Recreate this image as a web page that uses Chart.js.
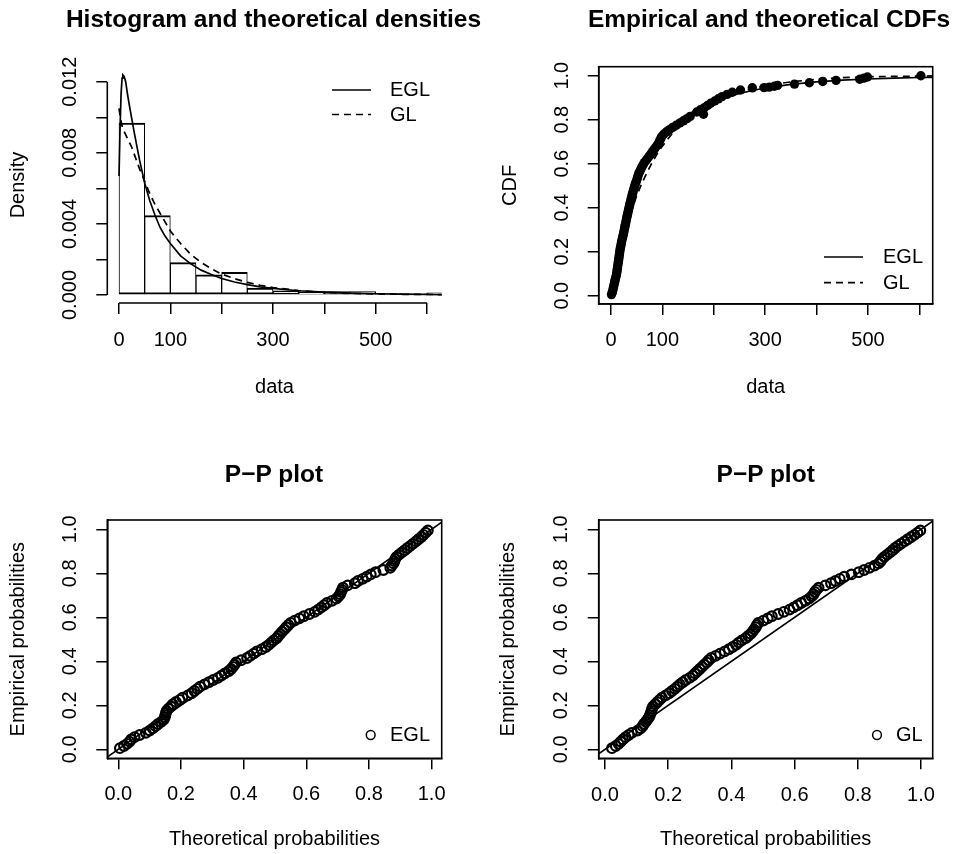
<!DOCTYPE html>
<html>
<head>
<meta charset="utf-8">
<script src="https://cdn.jsdelivr.net/npm/chart.js@4.4.1/dist/chart.umd.min.js"></script>
<style>
  html, body { margin: 0; padding: 0; background: #fff; }
  #page { position: relative; width: 962px; height: 854px; overflow: hidden; }
  .panel { position: absolute; width: 481px; height: 427px; }
  .main { position: absolute; width: 600px; text-align: center; color: #000; white-space: nowrap;
          font: bold 24.5px "Liberation Sans", Arial, Helvetica, sans-serif; line-height: 30px; }
</style>
</head>
<body>
<div id="page">
  <canvas id="c1" class="panel" width="481" height="427" style="left:0;top:0"></canvas>
  <canvas id="c2" class="panel" width="481" height="427" style="left:481px;top:0"></canvas>
  <canvas id="c3" class="panel" width="481" height="427" style="left:0;top:427px"></canvas>
  <canvas id="c4" class="panel" width="481" height="427" style="left:481px;top:427px"></canvas>
  <div class="main" style="left:-26.5px;top:3.6px">Histogram and theoretical densities</div>
  <div class="main" style="left:469px;top:3.6px">Empirical and theoretical CDFs</div>
  <div class="main" style="left:-26px;top:458.6px">P−P plot</div>
  <div class="main" style="left:465.7px;top:458.6px">P−P plot</div>
</div>
<script>
// ---- histogram (bin mid points, densities) ----
const histMid = [25, 75, 125, 175, 225, 275, 325, 375, 425, 475, 525, 575, 625];
const histDens = [0.00967, 0.00447, 0.00182, 0.00113, 0.00128, 0.00039, 0.00023, 0.00015, 0.00019, 0.00019, 0.0001, 0.00004, 0.00012];

// ---- fitted densities ----
const eglDensX = [0, 2, 4, 6, 7.5, 10, 13, 16, 20, 25, 30, 40, 50, 60, 70, 80, 90, 100, 120, 140, 160, 180, 200, 225, 250, 275, 300, 350, 400, 450, 500, 550, 600, 650];
const eglDensY = [0.0067, 0.0093, 0.0113, 0.0122, 0.01238, 0.0123, 0.0120, 0.0114, 0.0107, 0.0099, 0.0091, 0.0076, 0.0063, 0.0053, 0.0045, 0.0038, 0.0033, 0.0029, 0.0022, 0.00175, 0.0014, 0.00115, 0.00093, 0.00073, 0.00058, 0.00046, 0.00037, 0.00024, 0.00016, 0.00011, 0.00007, 0.00005, 0.00003, 0.00002];
const glDensX = [0, 3, 6, 10, 15, 20, 25, 30, 40, 50, 60, 70, 80, 90, 100, 120, 140, 160, 180, 200, 225, 250, 275, 300, 350, 400, 450, 500, 550, 600, 650];
const glDensY = [0.0105, 0.0099, 0.0095, 0.0092, 0.0089, 0.0086, 0.0083, 0.0079, 0.0071, 0.0064, 0.0057, 0.0051, 0.0046, 0.0041, 0.0036, 0.0029, 0.00228, 0.00183, 0.00148, 0.00118, 0.00092, 0.00071, 0.00055, 0.00042, 0.00025, 0.00015, 0.00009, 0.00006, 0.00004, 0.00003, 0.00002];

// ---- empirical CDF points ----
const cdfX = [1, 2.5, 3.5, 4.5, 5.5, 6.5, 7.5, 8.3, 9.5, 10.6,
  11.3, 11.9, 12.5, 13.1, 13.8, 14.4, 15, 15.6, 16.2, 16.8,
  17.4, 18.2, 19, 19.8, 20.6, 21.6, 22.6, 23.6, 24.6, 25.5,
  26.3, 27.2, 28.1, 29, 29.9, 30.8, 31.7, 32.6, 33.6, 34.6,
  35.6, 36.6, 37.6, 38.7, 39.8, 40.9, 42, 43.2, 44.4, 45.7,
  47, 48.5, 50, 51.3, 52.6, 54, 56, 58, 60, 62.4,
  65, 68.4, 71.5, 74.5, 78, 81, 84, 87, 90, 93,
  95, 97, 99, 103, 108, 114, 120, 127, 134, 141,
  148, 154, 180, 167, 174, 182, 188, 194, 202, 209,
  216, 226, 236, 252, 275, 298, 308, 318, 324, 357,
  386, 412, 438, 484, 492, 499, 603];
const cdfP = [0.005, 0.015, 0.025, 0.035, 0.045, 0.055, 0.065, 0.075, 0.085, 0.095,
  0.105, 0.115, 0.125, 0.135, 0.145, 0.155, 0.165, 0.175, 0.185, 0.195,
  0.205, 0.215, 0.225, 0.235, 0.245, 0.255, 0.265, 0.275, 0.285, 0.295,
  0.305, 0.315, 0.325, 0.335, 0.345, 0.355, 0.365, 0.375, 0.385, 0.395,
  0.405, 0.415, 0.425, 0.435, 0.445, 0.455, 0.465, 0.475, 0.485, 0.495,
  0.505, 0.515, 0.525, 0.535, 0.545, 0.555, 0.565, 0.575, 0.585, 0.595,
  0.605, 0.615, 0.625, 0.635, 0.645, 0.655, 0.665, 0.675, 0.685, 0.695,
  0.705, 0.715, 0.725, 0.735, 0.745, 0.755, 0.765, 0.775, 0.785, 0.795,
  0.805, 0.815, 0.825, 0.835, 0.845, 0.855, 0.865, 0.875, 0.885, 0.895,
  0.905, 0.915, 0.925, 0.935, 0.945, 0.946, 0.948, 0.952, 0.956, 0.962,
  0.968, 0.974, 0.979, 0.984, 0.989, 0.994, 1.0];

// ---- fitted CDFs ----
const cdfCurveX = [0, 3, 6, 10, 15, 20, 25, 30, 40, 50, 60, 70, 80, 90, 100, 120, 140, 160, 180, 200, 225, 250, 275, 300, 350, 400, 450, 500, 550, 600, 630];
const eglCdfY = [0, 0.025, 0.06, 0.105, 0.165, 0.225, 0.285, 0.34, 0.435, 0.51, 0.57, 0.62, 0.66, 0.695, 0.725, 0.772, 0.808, 0.837, 0.861, 0.881, 0.902, 0.919, 0.933, 0.944, 0.961, 0.972, 0.98, 0.985, 0.989, 0.992, 0.993];
const glCdfY = [0, 0.032, 0.064, 0.104, 0.156, 0.206, 0.255, 0.30, 0.385, 0.455, 0.51, 0.56, 0.605, 0.645, 0.68, 0.74, 0.787, 0.825, 0.856, 0.881, 0.906, 0.926, 0.942, 0.955, 0.972, 0.984, 0.991, 0.995, 0.997, 0.998, 0.999];

// ---- P-P plots ----
const ppEmp = [0.005, 0.015, 0.025, 0.035, 0.045, 0.055, 0.065, 0.075, 0.085, 0.095,
  0.105, 0.115, 0.125, 0.135, 0.145, 0.155, 0.165, 0.175, 0.185, 0.195,
  0.205, 0.215, 0.225, 0.235, 0.245, 0.255, 0.265, 0.275, 0.285, 0.295,
  0.305, 0.315, 0.325, 0.335, 0.345, 0.355, 0.365, 0.375, 0.385, 0.395,
  0.405, 0.415, 0.425, 0.435, 0.445, 0.455, 0.465, 0.475, 0.485, 0.495,
  0.505, 0.515, 0.525, 0.535, 0.545, 0.555, 0.565, 0.575, 0.585, 0.595,
  0.605, 0.615, 0.625, 0.635, 0.645, 0.655, 0.665, 0.675, 0.685, 0.695,
  0.705, 0.715, 0.725, 0.735, 0.745, 0.755, 0.765, 0.775, 0.785, 0.795,
  0.805, 0.815, 0.825, 0.835, 0.845, 0.855, 0.865, 0.875, 0.885, 0.895,
  0.905, 0.915, 0.925, 0.935, 0.945, 0.955, 0.965, 0.975, 0.985, 0.995];
const ppEglT = [0.005, 0.018, 0.028, 0.036, 0.041, 0.052, 0.068, 0.088, 0.100, 0.110,
  0.119, 0.127, 0.137, 0.145, 0.148, 0.150, 0.152, 0.154, 0.160, 0.168,
  0.174, 0.184, 0.196, 0.205, 0.222, 0.234, 0.243, 0.252, 0.261, 0.275,
  0.289, 0.303, 0.318, 0.329, 0.340, 0.352, 0.360, 0.366, 0.371, 0.376,
  0.392, 0.411, 0.421, 0.432, 0.442, 0.458, 0.471, 0.480, 0.488, 0.496,
  0.505, 0.511, 0.517, 0.523, 0.530, 0.536, 0.543, 0.550, 0.563, 0.578,
  0.592, 0.610, 0.627, 0.638, 0.648, 0.657, 0.666, 0.682, 0.696, 0.703,
  0.708, 0.711, 0.714, 0.717, 0.732, 0.755, 0.765, 0.780, 0.793, 0.806,
  0.821, 0.846, 0.868, 0.873, 0.878, 0.881, 0.884, 0.888, 0.896, 0.905,
  0.914, 0.923, 0.932, 0.941, 0.950, 0.958, 0.967, 0.974, 0.981, 0.988];
const ppGlT = [0.022, 0.034, 0.043, 0.050, 0.057, 0.065, 0.075, 0.085, 0.103, 0.113,
  0.119, 0.123, 0.129, 0.134, 0.139, 0.142, 0.145, 0.147, 0.149, 0.152,
  0.159, 0.166, 0.173, 0.180, 0.192, 0.203, 0.212, 0.221, 0.229, 0.237,
  0.246, 0.256, 0.268, 0.278, 0.285, 0.292, 0.300, 0.307, 0.314, 0.322,
  0.328, 0.336, 0.350, 0.364, 0.379, 0.392, 0.404, 0.415, 0.423, 0.433,
  0.445, 0.453, 0.461, 0.467, 0.472, 0.477, 0.481, 0.485, 0.501, 0.515,
  0.528, 0.548, 0.566, 0.584, 0.597, 0.609, 0.621, 0.634, 0.646, 0.654,
  0.660, 0.664, 0.669, 0.676, 0.697, 0.715, 0.729, 0.743, 0.757, 0.780,
  0.803, 0.820, 0.837, 0.853, 0.866, 0.872, 0.877, 0.884, 0.893, 0.902,
  0.910, 0.918, 0.927, 0.937, 0.948, 0.958, 0.969, 0.979, 0.989, 0.998];
const diagLine = [-0.1, 1.1];

// ---- ticks ----
const dataTicks = [0, 100, 200, 300, 400, 500, 600];
const dataTickLabels = ['0', '100', '', '300', '', '500', ''];
const densTicks = [0, 0.002, 0.004, 0.006, 0.008, 0.01, 0.012];
const densTickLabels = ['0.000', '', '0.004', '', '0.008', '', '0.012'];
const probTicks = [0, 0.2, 0.4, 0.6, 0.8, 1.0];
const probTickLabels = ['0.0', '0.2', '0.4', '0.6', '0.8', '1.0'];

const FONT = '"Liberation Sans", Arial, Helvetica, sans-serif';
Chart.defaults.font.family = FONT;
Chart.defaults.font.size = 20;
Chart.defaults.color = '#000';

const pts = (xs, ys) => xs.map((x, i) => ({ x: x, y: ys[i] }));

// R-like axis: ticks outside, label sizes fixed so the plot region lands where R puts it
function rScale(o) {
  return {
    type: 'linear', bounds: 'data', min: o.min, max: o.max, offset: false,
    afterBuildTicks: s => { s.ticks = o.ticks.map(v => ({ value: v })); },
    afterFit: s => { if (o.horiz) s.height = o.size; else s.width = o.size; },
    grid: { drawOnChartArea: false, drawTicks: true, tickLength: 11, tickColor: '#000', tickWidth: 1.5, lineWidth: 1.5, offset: false },
    border: { display: o.border, color: '#000', width: 1.6 },
    ticks: {
      autoSkip: false, padding: o.pad, color: '#000',
      minRotation: o.horiz ? 0 : 90, maxRotation: o.horiz ? 0 : 90,
      crossAlign: o.horiz ? 'near' : 'center',
      font: { size: 20 },
      callback: (v, i) => o.labels[i]
    },
    title: { display: true, text: o.title, padding: 0, color: '#000', font: { size: 20 } }
  };
}

// box / partial axis lines + legend, R style
const rFrame = {
  id: 'rFrame',
  afterDatasetsDraw(chart, args, o) {
    const ctx = chart.ctx, a = chart.chartArea, xs = chart.scales.x, ys = chart.scales.y;
    ctx.save();
    ctx.strokeStyle = '#000';
    ctx.fillStyle = '#000';
    ctx.lineWidth = 1.6;
    ctx.setLineDash([]);
    if (o.box) {
      ctx.strokeRect(a.left, a.top, a.right - a.left, a.bottom - a.top);
    } else {
      const xt = xs.ticks, yt = ys.ticks;
      ctx.beginPath();
      ctx.moveTo(xs.getPixelForValue(xt[0].value), a.bottom);
      ctx.lineTo(xs.getPixelForValue(xt[xt.length - 1].value), a.bottom);
      ctx.moveTo(a.left, ys.getPixelForValue(yt[0].value));
      ctx.lineTo(a.left, ys.getPixelForValue(yt[yt.length - 1].value));
      ctx.stroke();
    }
    const lg = o.legend;
    ctx.font = '20px ' + FONT;
    ctx.textBaseline = 'middle';
    ctx.textAlign = 'left';
    lg.items.forEach((it, i) => {
      const y = lg.y[i];
      ctx.lineWidth = 1.6;
      if (it.circle) {
        ctx.lineWidth = 1.5;
        ctx.beginPath();
        ctx.arc(lg.x0, y, 4.4, 0, Math.PI * 2);
        ctx.stroke();
      } else {
        ctx.setLineDash(it.dash || []);
        ctx.beginPath();
        ctx.moveTo(lg.x0, y);
        ctx.lineTo(lg.x1, y);
        ctx.stroke();
        ctx.setLineDash([]);
      }
      ctx.fillText(it.label, lg.tx, y + 0.5);
    });
    ctx.restore();
  }
};

function makeChart(id, datasets, xs, ys, pad, frame) {
  return new Chart(document.getElementById(id), {
    type: 'scatter',
    data: { datasets: datasets },
    options: {
      responsive: false, animation: false, devicePixelRatio: 1, events: [],
      layout: { padding: pad },
      plugins: { legend: { display: false }, tooltip: { enabled: false }, rFrame: frame },
      scales: { x: rScale(xs), y: rScale(ys) }
    },
    plugins: [rFrame]
  });
}

const lineSet = (data, dash) => ({
  data: data, showLine: true, pointRadius: 0, borderColor: '#000', borderWidth: 1.7,
  borderDash: dash || [], tension: 0, clip: 0, fill: false
});
const DASH = [7, 5];
const ppPoints = data => ({
  data: data, pointRadius: 4.8, pointBackgroundColor: 'rgba(0,0,0,0)',
  pointBorderColor: '#000', pointBorderWidth: 2.2
});

// 1. histogram + densities
makeChart('c1', [
  lineSet(pts(eglDensX, eglDensY)),
  lineSet(pts(glDensX, glDensY), DASH),
  { type: 'bar', data: pts(histMid, histDens), backgroundColor: '#fff', borderColor: '#000',
    borderWidth: { top: 2, right: 1, bottom: 2, left: 1 }, borderSkipped: false,
    barPercentage: 1, categoryPercentage: 1, clip: 0 }
],
  { horiz: true, min: -22.8, max: 628.7, ticks: dataTicks, labels: dataTickLabels, size: 96, pad: 14, border: false, title: 'data' },
  { horiz: false, min: -0.00045, max: 0.01283, ticks: densTicks, labels: densTickLabels, size: 101.3, pad: 1, border: false, title: 'Density' },
  { left: 6, right: 39.3, top: 67, bottom: 28 },
  { box: false, legend: { x0: 332, x1: 371, tx: 390, y: [90, 114.5],
    items: [{ label: 'EGL' }, { label: 'GL', dash: DASH }] } }
);

// 2. empirical and fitted CDFs
makeChart('c2', [
  { data: pts(cdfX, cdfP), pointRadius: 4.7, pointBackgroundColor: '#000', pointBorderWidth: 0, borderColor: '#000' },
  lineSet(pts(cdfCurveX, eglCdfY)),
  lineSet(pts(cdfCurveX, glCdfY), DASH)
],
  { horiz: true, min: -23.9, max: 626, ticks: dataTicks, labels: dataTickLabels, size: 95, pad: 13, border: true, title: 'data' },
  { horiz: false, min: -0.0377, max: 1.041, ticks: probTicks, labels: probTickLabels, size: 100.7, pad: 11, border: true, title: 'CDF' },
  { left: 17, right: 29.3, top: 66.7, bottom: 28 },
  { box: true, legend: { x0: 343, x1: 382, tx: 402, y: [257, 282.6],
    items: [{ label: 'EGL' }, { label: 'GL', dash: DASH }] } }
);

// 3. P-P plot EGL
makeChart('c3', [
  ppPoints(pts(ppEglT, ppEmp)),
  lineSet(pts(diagLine, diagLine))
],
  { horiz: true, min: -0.0351, max: 1.0322, ticks: probTicks, labels: probTickLabels, size: 93.4, pad: 12.7, border: true, title: 'Theoretical probabilities' },
  { horiz: false, min: -0.0409, max: 1.0423, ticks: probTicks, labels: probTickLabels, size: 101.3, pad: 12.1, border: true, title: 'Empirical probabilities' },
  { left: 6, right: 39.3, top: 93, bottom: 2.3 },
  { box: true, legend: { x0: 370.7, tx: 390, y: [308], items: [{ label: 'EGL', circle: true }] } }
);

// 4. P-P plot GL
makeChart('c4', [
  ppPoints(pts(ppGlT, ppEmp)),
  lineSet(pts(diagLine, diagLine))
],
  { horiz: true, min: -0.0199, max: 1.037, ticks: probTicks, labels: probTickLabels, size: 93.4, pad: 13.7, border: true, title: 'Theoretical probabilities' },
  { horiz: false, min: -0.0409, max: 1.0423, ticks: probTicks, labels: probTickLabels, size: 101.9, pad: 12.6, border: true, title: 'Empirical probabilities' },
  { left: 15.8, right: 29.3, top: 93, bottom: 2.3 },
  { box: true, legend: { x0: 396, tx: 415, y: [308], items: [{ label: 'GL', circle: true }] } }
);
</script>
</body>
</html>
